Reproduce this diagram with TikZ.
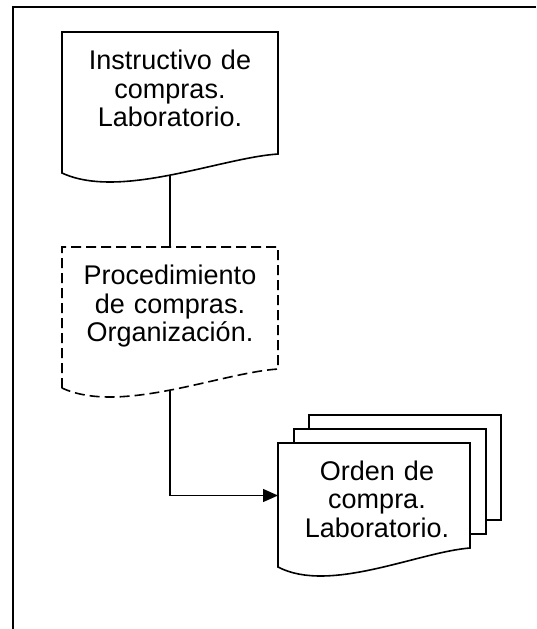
\documentclass[tikz,border=0pt]{standalone}
\usepackage{fontspec}
\setmainfont{Liberation Sans}
\usetikzlibrary{arrows.meta}

% document symbol: options, name, left, top, width, height of the right side
\newcommand{\docsym}[6][]{%
  \draw[#1] ({#3},{#4+#6+19}) -- ({#3},{#4}) -- ({#3+#5},{#4}) -- ({#3+#5},{#4+#6})
    .. controls ({#3+0.731*#5},{#4+#6+4}) and ({#3+0.269*#5},{#4+#6+46}) .. cycle;
  \coordinate (#2-in) at ({#3+0.5*#5},{#4});
  \coordinate (#2-out) at ({#3+0.5*#5},{#4+#6+21.1});
  \coordinate (#2-w) at ({#3},{#4+0.5*#6});
}

\begin{document}
\begin{tikzpicture}[x=1pt,y=-1pt,>={Triangle[length=15pt,width=13pt]},line width=1.4pt,
  doctext/.style={anchor=base,text width=200pt,align=center,inner sep=0pt,
    font=\fontsize{27pt}{28.7pt}\selectfont},
  outline/.style={line width=1.6pt,fill=white}]
\useasboundingbox (0,0) rectangle (536,629);
\draw[line width=2pt] (13,629) -- (13,6.5) -- (536,6.5);

\docsym[outline]{instr}{62}{32}{216}{122}
\docsym[outline,dash pattern=on 10pt off 5pt]{proc}{62}{247}{216}{122}
\draw[outline] (309,415) rectangle ++(192,105);
\draw[outline] (294,429) rectangle ++(192,105);
\docsym[outline]{orden}{278}{443}{192}{105}

\node[doctext] (instr) at (170,69.3) {Instructivo de\\compras.\\Laboratorio.};
\node[doctext] (proc) at (170,284.3) {Procedimiento\\de compras.\\Organización.};
\node[doctext] (orden) at (377,480) {Orden de\\compra.\\Laboratorio.};

\draw (instr-out) -- (proc-in);
\draw[->] (proc-out) |- (orden-w);
\end{tikzpicture}
\end{document}
